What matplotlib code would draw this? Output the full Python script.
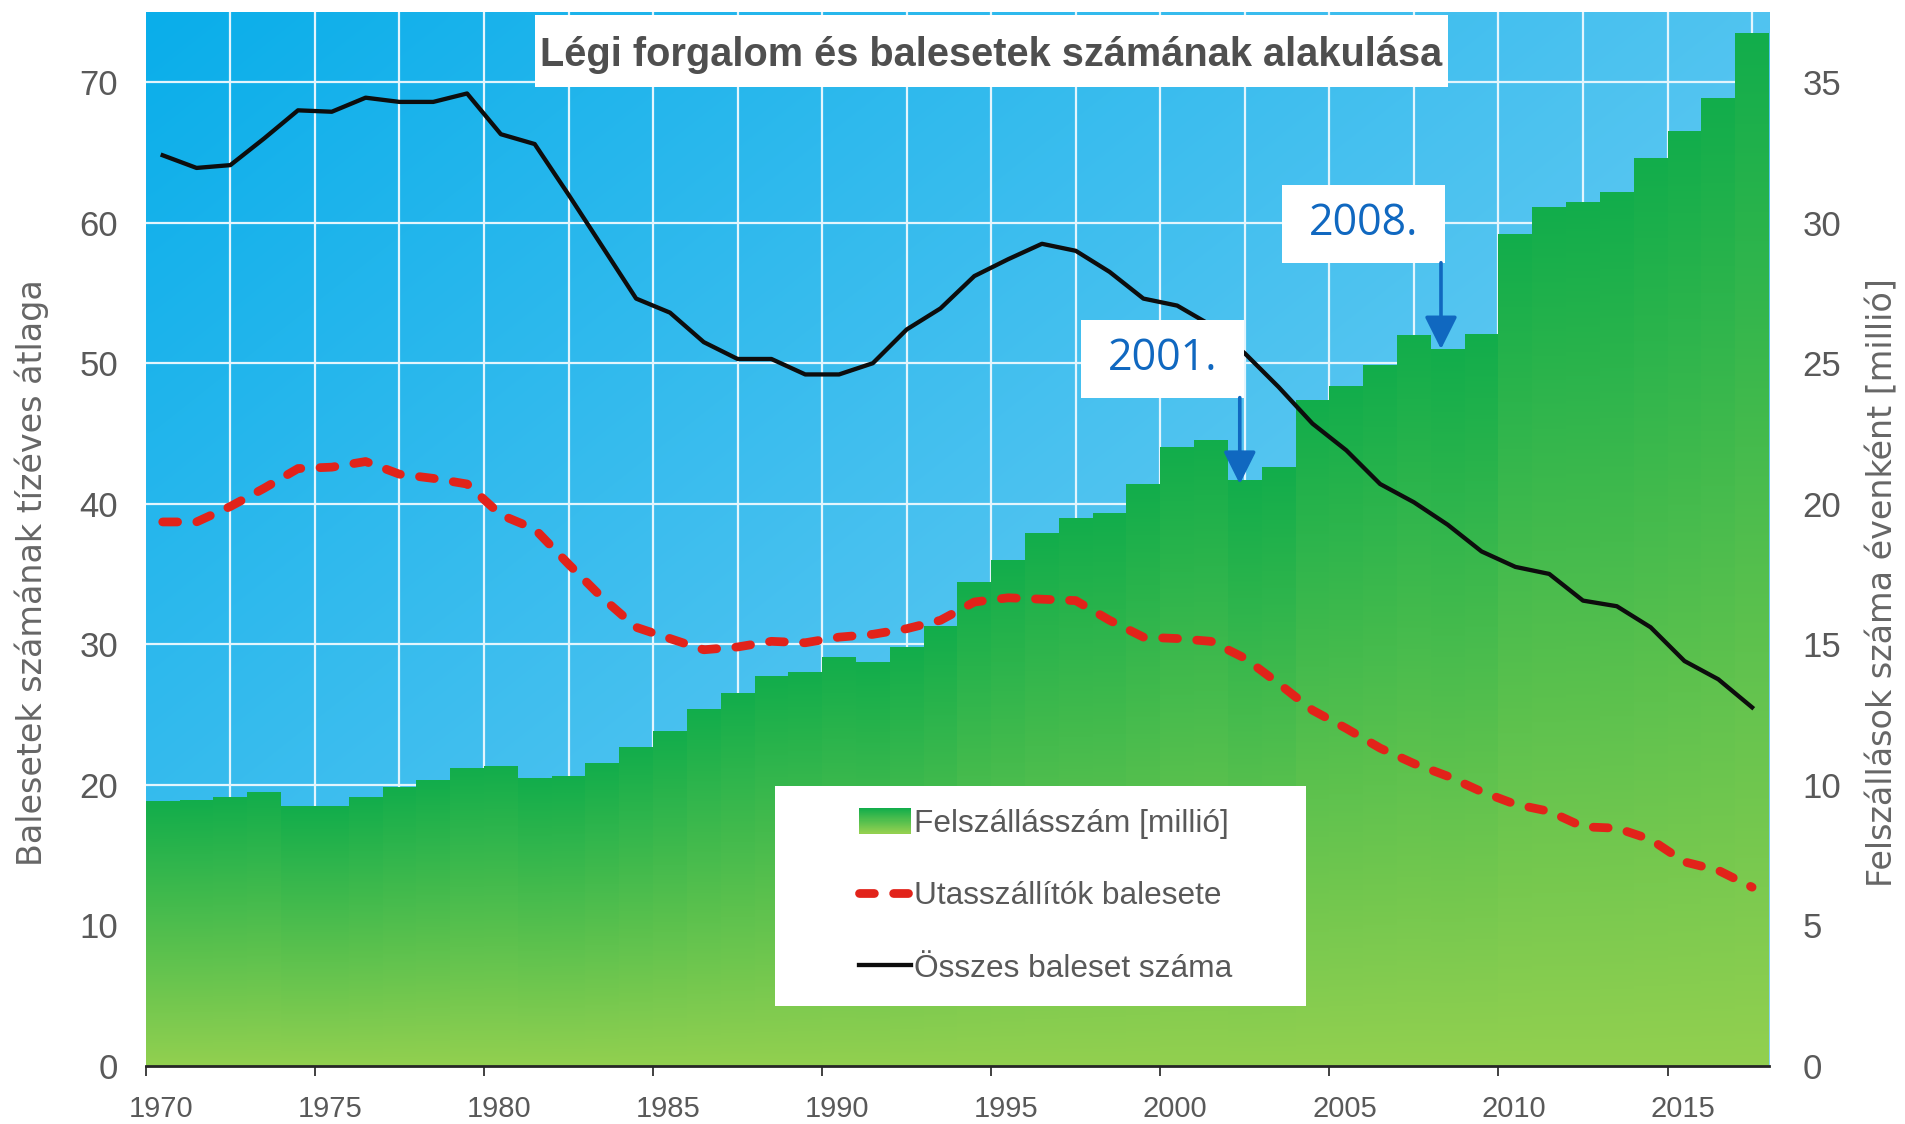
import numpy as np
import matplotlib
matplotlib.use('Agg')
import matplotlib.pyplot as plt
import matplotlib.transforms as mtransforms
from matplotlib.patches import Rectangle
from matplotlib.lines import Line2D
from matplotlib.legend_handler import HandlerBase
from matplotlib.colors import to_rgb

# --- data ---
years = list(range(1970, 2018))

# boardings per year [million] (right axis)
boardings = [9.4, 9.45, 9.55, 9.75, 9.25, 9.25, 9.55, 9.9, 10.15, 10.6,
             10.65, 10.25, 10.3, 10.75, 11.35, 11.9, 12.7, 13.25, 13.85, 14.0,
             14.55, 14.35, 14.9, 15.65, 17.2, 18.0, 18.95, 19.5, 19.65, 20.7,
             22.0, 22.25, 20.85, 21.3, 23.7, 24.2, 24.95, 26.0, 25.5, 26.05,
             29.6, 30.55, 30.75, 31.1, 32.3, 33.25, 34.45, 36.75]

# ten-year average of all accidents (left axis)
total_acc = [64.8, 63.9, 64.1, 66.0, 68.0, 67.9, 68.9, 68.6, 68.6, 69.2,
             66.3, 65.6, 62.0, 58.3, 54.6, 53.6, 51.5, 50.3, 50.3, 49.2,
             49.2, 50.0, 52.4, 53.9, 56.2, 57.4, 58.5, 58.0, 56.5, 54.6,
             54.1, 52.7, 50.7, 48.3, 45.7, 43.8, 41.4, 40.1, 38.5, 36.6,
             35.5, 35.0, 33.1, 32.7, 31.2, 28.8, 27.5, 25.5]

# ten-year average of airliner accidents (left axis)
airliner_acc = [38.7, 38.7, 39.8, 41.1, 42.5, 42.6, 43.0, 42.1, 41.8, 41.4,
                39.2, 38.2, 35.7, 33.3, 31.2, 30.4, 29.6, 29.8, 30.2, 30.1,
                30.5, 30.7, 31.1, 31.7, 33.0, 33.3, 33.2, 33.1, 31.7, 30.5,
                30.4, 30.2, 29.0, 27.2, 25.3, 24.0, 22.6, 21.5, 20.6, 19.5,
                18.6, 18.1, 17.0, 16.9, 16.1, 14.5, 13.9, 12.7]

title = 'Légi forgalom és balesetek számának alakulása'
left_label = 'Balesetek számának tízéves átlaga'
right_label = 'Felszállások száma évenként [millió]'
legend_labels = ['Felszállásszám [millió]', 'Utasszállítók balesete', 'Összes baleset száma']
callouts = [('2001.', 2002.35, 41.4), ('2008.', 2008.3, 51.0)]

SANS = ['Liberation Sans', 'DejaVu Sans']
plt.rcParams['font.family'] = SANS

GRAY = '#595959'
BLUE = '#1068c0'
GREEN_DARK = to_rgb('#12ad4b')
GREEN_LIGHT = to_rgb('#92d050')

W, H = 1905, 1124
fig = plt.figure(figsize=(W / 100, H / 100), dpi=100)
ax = fig.add_axes([145.8 / W, 1 - 1065.6 / H, 1623.2 / W, 1053.6 / H])
ax2 = ax.twinx()
ax.set_zorder(ax2.get_zorder() + 1)
ax.patch.set_visible(False)

# blue gradient background
gy, gx = np.mgrid[0:1:120j, 0:1:160j]
t = 0.55 * gx + 0.45 * gy
c0 = np.array(to_rgb('#0aaeea'))
c1 = np.array(to_rgb('#8ad5f5'))
bg = c0 * (1 - t[..., None]) + c1 * t[..., None]
ax2.imshow(bg, extent=[0, 1, 0, 1], transform=ax2.transAxes, aspect='auto',
           zorder=0, interpolation='bicubic')

# grid
for gxv in np.arange(1972.5, 2018, 2.5):
    ax2.axvline(gxv, color='#e3f5fd', lw=1.6, zorder=1)
for gyv in range(5, 36, 5):
    ax2.axhline(gyv, color='#e3f5fd', lw=1.6, zorder=1)

# bars with per-bar vertical gradient
bars = ax2.bar(years, boardings, width=1.0, align='edge', color='#4cbd4d',
               edgecolor='none', zorder=2)
grad_t = np.linspace(0, 1, 200)[:, None, None]
grad = np.array(GREEN_DARK) * (1 - grad_t) + np.array(GREEN_LIGHT) * grad_t
for rect in bars:
    x0, w, h = rect.get_x(), rect.get_width(), rect.get_height()
    ax2.imshow(grad, extent=[x0, x0 + w, 0, h], aspect='auto', zorder=2.5,
               interpolation='bilinear')

# lines at bar centres
x_mid = np.array(years) + 0.5
ax.plot(x_mid, airliner_acc, color='#e2231a', lw=6.3, dashes=(1.7, 2.2),
        dash_capstyle='round', zorder=3)
ax.plot(x_mid, total_acc, color='#0d0d0d', lw=3.1, zorder=3.2)

# axes limits and ticks
ax.set_xlim(1970, 2018)
ax.set_ylim(0, 75)
ax2.set_ylim(0, 37.5)
ax.set_xticks(range(1970, 2016, 5))
ax.set_yticks(range(0, 71, 10))
ax2.set_yticks(range(0, 36, 5))

for s in ['top', 'left', 'right']:
    ax.spines[s].set_visible(False)
    ax2.spines[s].set_visible(False)
ax2.spines['bottom'].set_visible(False)
ax.spines['bottom'].set_color('#262626')
ax.spines['bottom'].set_linewidth(2.0)
ax.spines['bottom'].set_zorder(5)

ax.tick_params(axis='x', direction='out', length=7, width=1.4, color='#404040',
               pad=14, labelsize=21, labelcolor=GRAY)
ax.tick_params(axis='y', length=0, pad=20, labelsize=25, labelcolor=GRAY)
ax2.tick_params(axis='y', length=0, pad=24, labelsize=25, labelcolor=GRAY)

offset = mtransforms.ScaledTranslation(15 / 100, 0, fig.dpi_scale_trans)
for lab in ax.get_xticklabels():
    lab.set_transform(lab.get_transform() + offset)

# axis titles
fig.text(32 / W, 1 - 573 / H, left_label, rotation=90, ha='center', va='center',
         fontsize=24, color='#666666', family='DejaVu Sans')
fig.text(1883 / W, 1 - 583 / H, right_label, rotation=90, ha='center', va='center',
         fontsize=24, color='#666666', family='DejaVu Sans')

# title box
fig.add_artist(Rectangle((535 / W, 1 - 87 / H), 913 / W, 72 / H, transform=fig.transFigure,
                         facecolor='white', edgecolor='none', zorder=2))
fig.text(991 / W, 1 - 55 / H, title, ha='center', va='center', fontsize=28.6,
         fontweight='bold', color='#4f4f4f', zorder=3)

# callouts
box_w, box_h = 4.82, 5.55
for label, xa, ya in callouts:
    bx1 = xa + 0.13
    by0 = ya + 6.15
    ax.add_patch(Rectangle((bx1 - box_w, by0), box_w, box_h, facecolor='white',
                           edgecolor='none', zorder=4))
    ax.text(bx1 - box_w / 2, by0 + box_h / 2, label, ha='center', va='center',
            fontsize=31, color=BLUE, family='Open Sans', zorder=5)
    ax.annotate('', xy=(xa, ya), xytext=(xa, by0),
                arrowprops=dict(arrowstyle='-|>,head_length=1.0,head_width=0.5',
                                mutation_scale=20, color=BLUE, lw=2.6,
                                shrinkA=0, shrinkB=0), zorder=5)


# legend
class GradientHandler(HandlerBase):
    def create_artists(self, legend, orig_handle, xdescent, ydescent, width,
                       height, fontsize, trans):
        arts = []
        n = 24
        for i in range(n):
            f = i / (n - 1)
            col = tuple(np.array(GREEN_DARK) * (1 - f) + np.array(GREEN_LIGHT) * f)
            arts.append(Rectangle((-xdescent, -ydescent + height * (1 - (i + 1) / n)),
                                  width, height / n + 0.3, facecolor=col,
                                  edgecolor='none', transform=trans))
        return arts


fig.add_artist(Rectangle((775 / W, 1 - 1006 / H), 531 / W, 220 / H, transform=fig.transFigure,
                         facecolor='white', edgecolor='none', zorder=2))
proxy = Rectangle((0, 0), 1, 1)
handles = [proxy,
           Line2D([], [], color='#e2231a', lw=6.3, dashes=(1.7, 2.2), dash_capstyle='round'),
           Line2D([], [], color='#0d0d0d', lw=3.1)]
leg = fig.legend(handles, legend_labels, handler_map={proxy: GradientHandler()},
                 loc='center left', bbox_to_anchor=(859 / W, 1 - 896 / H),
                 frameon=False, prop={'size': 22.8},
                 handlelength=1.64, handleheight=0.85, handletextpad=0.1,
                 labelspacing=1.32, borderpad=0, borderaxespad=0, labelcolor=GRAY)
leg.set_zorder(4)

fig.savefig('out.png', dpi=100)
